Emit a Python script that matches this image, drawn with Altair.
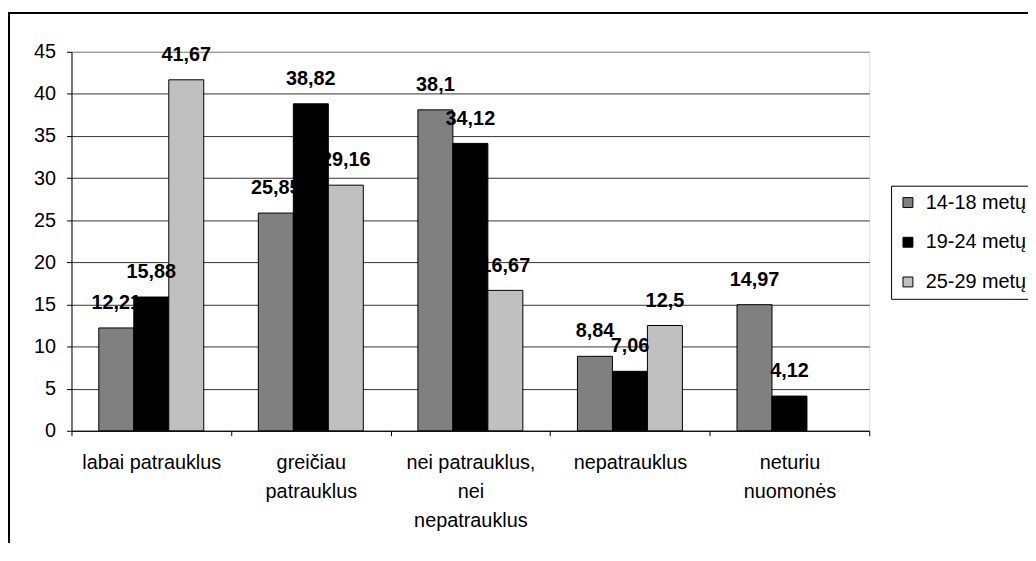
import altair as alt
import pandas as pd

categories = [
    "labai patrauklus",
    "greičiau\npatrauklus",
    "nei patrauklus,\nnei\nnepatrauklus",
    "nepatrauklus",
    "neturiu\nnuomonės",
]
series = ["14-18 metų", "19-24 metų", "25-29 metų"]
values_14_18 = [12.21, 25.85, 38.1, 8.84, 14.97]
values_19_24 = [15.88, 38.82, 34.12, 7.06, 4.12]
values_25_29 = [41.67, 29.16, 16.67, 12.5, 0]
colors = ["#808080", "#000000", "#C0C0C0"]
y_ticks = [0, 5, 10, 15, 20, 25, 30, 35, 40, 45]

rows = []
for s, vals in zip(series, [values_14_18, values_19_24, values_25_29]):
    for c, v in zip(categories, vals):
        rows.append({"cat": c, "series": s, "value": v,
                     "label": (str(v).replace(".", ",") if v > 0 else "")})
df = pd.DataFrame(rows)

FONT = "Liberation Sans"

x_enc = alt.X(
    "cat:N", sort=categories,
    scale=alt.Scale(paddingInner=0, paddingOuter=0),
    axis=alt.Axis(title=None, labelAngle=0, tickBand="extent", grid=False,
                  labelExpr="split(datum.label, '\\n')",
                  labelFontSize=20, labelFont=FONT, labelColor="black",
                  labelLineHeight=29, labelPadding=17,
                  tickSize=5, tickColor="black", domainColor="black"),
)
xoff_enc = alt.XOffset("series:N", sort=series,
                       scale=alt.Scale(paddingOuter=0.78, paddingInner=0))
y_enc = alt.Y(
    "value:Q",
    scale=alt.Scale(domain=[0, 45], nice=False),
    axis=alt.Axis(title=None, values=y_ticks, grid=True,
                  gridColor={"condition": {"test": "datum.value === 45", "value": "#808080"},
                             "value": "#333333"},
                  labelFontSize=20, labelFont=FONT, labelColor="black",
                  labelPadding=11, tickSize=5, tickColor="black",
                  domainColor="black"),
)

bars = alt.Chart(df).mark_bar(stroke="black", strokeWidth=1).encode(
    x=x_enc, xOffset=xoff_enc, y=y_enc,
    color=alt.Color(
        "series:N", sort=series,
        scale=alt.Scale(domain=series, range=colors),
        legend=alt.Legend(
            title=None, orient="none", legendX=826, legendY=135,
            symbolType="square", symbolSize=100, symbolStrokeColor="black",
            symbolStrokeWidth=1, labelFontSize=20, labelFont=FONT,
            labelColor="black", rowPadding=20, padding=7,
            strokeColor="black", fillColor="white", labelOffset=8,
        ),
    ),
    opacity=alt.condition("datum.value > 0", alt.value(1), alt.value(0)),
)

labels = alt.Chart(df).transform_filter("datum.value > 0").mark_text(
    font=FONT, fontSize=20, fontWeight="bold", color="black",
    baseline="middle", align="center", dy=-25,
).encode(x=x_enc, xOffset=xoff_enc, y=y_enc, text="label:N")

frame = alt.Chart(alt.Data(values=[{}])).mark_rect(
    filled=False, stroke="black", strokeWidth=2, clip=False
).encode(x=alt.value(-63), x2=alt.value(1200), y=alt.value(-39), y2=alt.value(800))

chart = alt.layer(frame, bars, labels).properties(
    width=804, height=382,
    autosize=alt.AutoSizeParams(type="none"),
    padding={"left": 64, "top": 42, "right": 160, "bottom": 111},
).configure_view(stroke="#808080", strokeWidth=1).configure(background="white")

chart.save("out.html", embed_options={"renderer": "svg", "actions": False})
